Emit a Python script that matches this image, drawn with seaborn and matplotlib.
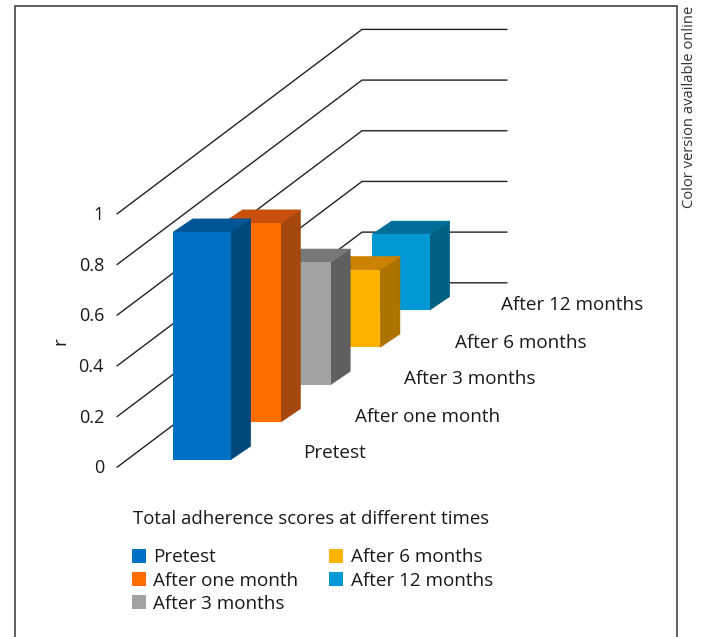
import matplotlib
matplotlib.use("Agg")
import matplotlib.pyplot as plt
from matplotlib.patches import Patch
import seaborn as sns

# ---- data ----
times = ["Pretest", "After one month", "After 3 months", "After 6 months", "After 12 months"]
scores = [0.897, 0.785, 0.483, 0.306, 0.298]
r_ticks = [0, 0.2, 0.4, 0.6, 0.8, 1]
r_tick_labels = ["0", "0.2", "0.4", "0.6", "0.8", "1"]

# ---- styles ----
front_colors = ["#0070C4", "#FF6D00", "#A2A2A2", "#FFB300", "#0099D6"]
side_colors = ["#00477B", "#A5470E", "#5F5F5F", "#AD7200", "#006082"]
top_colors = ["#005596", "#C8500C", "#787878", "#CC8200", "#006E99"]
FONT = "Open Sans"
FS = 13.55
INK = "#1a1a1a"

# ---- layout in pixels ----
W, H = 705, 637
ZERO_PY = 467.3          # pixel row of value 0 at the front of the chart
UNIT = 253.4             # pixels per r = 1
BAR_W = 58
STEP_X, STEP_Y = 49.75, 37.4
BAR_X0, BAR_Y0 = 173, 459.5
SIDE_X, SIDE_Y = 19.7, 13.3
WALL_X0, WALL_X1, WALL_X2 = 117, 362, 507
WALL_RISE = 184.5


def dy(px):
    return px / UNIT


def Y(py):
    return (ZERO_PY - py) / UNIT


sns.set_theme(style="white")
plt.rcParams["font.family"] = [FONT, "DejaVu Sans"]
fig = plt.figure(figsize=(W / 100, H / 100), dpi=100)
ax = fig.add_axes([0, 0, 1, 1])

# gridlines on side wall / back wall
for t, lab in zip(r_ticks, r_tick_labels):
    ax.plot([WALL_X0, WALL_X1, WALL_X2], [t, t + dy(WALL_RISE), t + dy(WALL_RISE)],
            color="#222222", lw=1.0, zorder=1, solid_joinstyle="miter")
    ax.text(104, t - dy(1.0), lab, ha="right", va="center", fontsize=13.0, color=INK)

# bars, back to front
for i in reversed(range(len(times))):
    left = BAR_X0 + i * STEP_X
    floor = Y(BAR_Y0) + i * dy(STEP_Y)
    v = scores[i]
    z = 10 + 2 * (len(times) - i)
    r = left + BAR_W
    ax.fill([r, r + SIDE_X, r + SIDE_X, r],
            [floor, floor + dy(SIDE_Y), floor + v + dy(SIDE_Y), floor + v],
            color=side_colors[i], lw=0.4, zorder=z)
    ax.fill([left, r, r + SIDE_X, left + SIDE_X],
            [floor + v, floor + v, floor + v + dy(SIDE_Y), floor + v + dy(SIDE_Y)],
            color=top_colors[i], lw=0.4, zorder=z)
    sns.barplot(x=[left + BAR_W / 2], y=[v], native_scale=True, width=BAR_W, gap=0,
                color=front_colors[i], saturation=1, bottom=floor, linewidth=0,
                zorder=z + 1, ax=ax)

# category labels on the depth axis
label_x = [303, 355, 404, 455, 501]
label_py = [453.5, 416.5, 379, 342.5, 305.5]
for name, x, py in zip(times, label_x, label_py):
    ax.text(x, Y(py), name, ha="left", va="center", fontsize=FS, color=INK)

ax.text(60, Y(341), "r", rotation=90, ha="center", va="center", fontsize=FS, color=INK)
ax.text(133, Y(519.5), "Total adherence scores at different times", ha="left", va="center",
        fontsize=13.4, color=INK)

handles = [Patch(facecolor=c, edgecolor="none", label=n) for c, n in zip(front_colors, times)]
ax.legend(handles=handles, ncol=2, loc="upper left", bbox_to_anchor=(132, Y(548.5)),
          bbox_transform=ax.transData, frameon=False, fontsize=FS, borderpad=0, borderaxespad=0,
          handlelength=0.72, handleheight=0.72, handletextpad=0.42, columnspacing=1.62,
          labelspacing=0.27, labelcolor=INK)

# frame and side note
ax.plot([15, 15, 677, 677], [Y(H), Y(6), Y(6), Y(H)], color="#333333", lw=1.1, zorder=1,
        solid_joinstyle="miter")
ax.text(689.5, Y(107), "Color version available online", rotation=90, ha="center", va="center",
        fontsize=10.6, color="#333333")

ax.set_xlim(0, W)
ax.set_ylim(Y(H), Y(0))
ax.set_axis_off()
fig.savefig("out.png", dpi=100)
